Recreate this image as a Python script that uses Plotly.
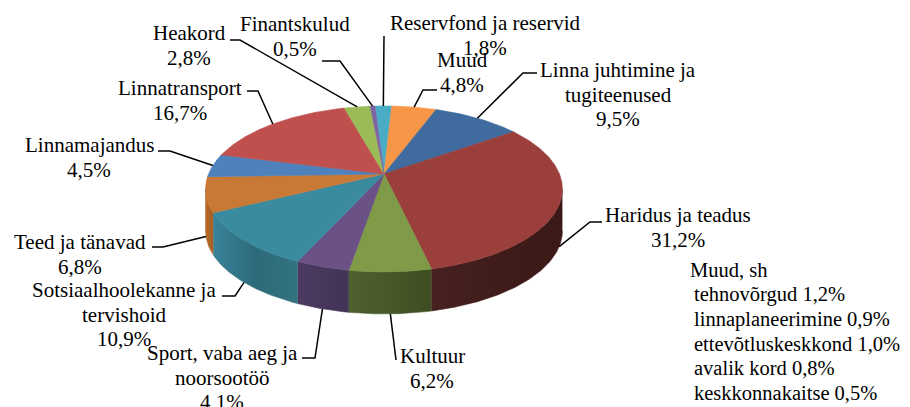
import numpy as np
import plotly.graph_objects as go

# ---------------- data ----------------
categories = [
    "Reservfond ja reservid",
    "Muud",
    "Linna juhtimine ja tugiteenused",
    "Haridus ja teadus",
    "Kultuur",
    "Sport, vaba aeg ja noorsootöö",
    "Sotsiaalhoolekanne ja tervishoid",
    "Teed ja tänavad",
    "Linnamajandus",
    "Linnatransport",
    "Heakord",
    "Finantskulud",
]
shares = [1.8, 4.8, 9.5, 31.2, 6.2, 4.1, 10.9, 6.8, 4.5, 16.7, 2.8, 0.5]
label_text = [
    ["Reservfond ja reservid"],
    ["Muud"],
    ["Linna juhtimine ja", "tugiteenused"],
    ["Haridus ja teadus"],
    ["Kultuur"],
    ["Sport, vaba aeg ja", "noorsootöö"],
    ["Sotsiaalhoolekanne ja", "tervishoid"],
    ["Teed ja tänavad"],
    ["Linnamajandus"],
    ["Linnatransport"],
    ["Heakord"],
    ["Finantskulud"],
]
other_title = "Muud, sh"
other_items = ["tehnovõrgud", "linnaplaneerimine", "ettevõtluskeskkond", "avalik kord", "keskkonnakaitse"]
other_values = [1.2, 0.9, 1.0, 0.8, 0.5]

# ---------------- styles / layout ----------------
top_colors = ["#4BACC6", "#F79646", "#3F6B9F", "#9B3F3D", "#7F9B47", "#6A5186",
              "#3A8BA0", "#C97936", "#4F81BD", "#BF504D", "#9BBB59", "#8064A2"]
# wall shading (left, middle, right)
side_colors = [
    ("#2F7F95", "#2F7F95", "#2F7F95"),
    ("#B86A2A", "#B86A2A", "#B86A2A"),
    ("#2C4C72", "#2C4C72", "#2C4C72"),
    ("#46211F", "#3F1C1A", "#3B1917"),
    ("#4E612E", "#465828", "#3E4D22"),
    ("#4C3C62", "#47375B", "#423355"),
    ("#38839A", "#2D6A79", "#32737F"),
    ("#B86B2B", "#AE6427", "#A55E25"),
    ("#3A6390", "#3A6390", "#3A6390"),
    ("#8E3A38", "#8E3A38", "#8E3A38"),
    ("#73903F", "#73903F", "#73903F"),
    ("#5E4A7A", "#5E4A7A", "#5E4A7A"),
]

PAGE_W, PAGE_H = 910, 407
OFF = 8                    # default page body margin
CX, CY = 384.0, 174.0      # apex of pie (page pixels)
RX, RY = 175.5, 80.3       # radii
K = 0.18                   # perspective factor
DEPTH = 42.0               # thickness of pie
START = -3.5               # first slice angle (deg, clockwise from top)
FONT = dict(family="Liberation Serif", size=21, color="black")
FONT_OTHER = dict(family="Liberation Serif", size=20.5, color="black")
LINE_H = 24.5

# label block: (center x, first line center y)
label_pos = [(485, 23), (462, 60), (618, 70), (678, 215), (432, 356), (222, 353),
             (124, 290), (80, 242), (89, 145), (180, 88), (189, 33), (295, 24)]
# leader line: text-side end and elbow (None = straight)
leader = [((384, 36), None), ((437, 90), (423, 90)), ((537, 73), (523, 73)),
          ((602, 222), (590, 222)), ((396, 360), None), ((302, 358), (315, 358)),
          ((222, 296), (235, 296)), ((152, 247), (163, 247)), ((158, 151), (170, 151)),
          ((247, 91), (258, 91)), ((230, 40), (240, 40)), ((322, 61), (340, 61))]
other_pos = (688, 270)
other_indent = 4


def proj(a_deg):
    a = np.radians(a_deg)
    u, v = np.sin(a), np.cos(a)
    d = 1 + K * v
    return CX + RX * u / d, CY - RY * v / d


def fmt(v):
    return f"{v:.1f}".replace(".", ",") + "%"


total = sum(shares)
bounds = START + 360.0 * np.concatenate([[0], np.cumsum(shares)]) / total
front_lo = 90 + np.degrees(np.arcsin(K))
front_hi = 270 - np.degrees(np.arcsin(K))

fig = go.Figure()

# walls
for i in range(len(shares)):
    a0, a1 = bounds[i], bounds[i + 1]
    lo, hi = max(a0, front_lo), min(a1, front_hi)
    if hi <= lo:
        continue
    ang = np.linspace(lo, hi, max(4, int((hi - lo) * 2)))
    xs, ys = proj(ang)
    px = np.concatenate([xs, xs[::-1]])
    py = np.concatenate([ys, ys[::-1] + DEPTH])
    cl, cm, cr = side_colors[i]
    fig.add_trace(go.Scatter(x=px, y=py, mode="lines", fill="toself",
                             fillcolor=cm,
                             fillgradient=dict(type="horizontal",
                                               colorscale=[[0, cl], [0.5, cm], [1, cr]],
                                               start=float(px.min()), stop=float(px.max())),
                             line=dict(color=cm, width=0.6),
                             hoverinfo="skip", showlegend=False))

# tops
for i in range(len(shares)):
    a0, a1 = bounds[i], bounds[i + 1]
    ang = np.linspace(a0, a1, max(3, int((a1 - a0) * 2)))
    xs, ys = proj(ang)
    px = np.concatenate([[CX], xs, [CX]])
    py = np.concatenate([[CY], ys, [CY]])
    fig.add_trace(go.Scatter(x=px, y=py, mode="lines", fill="toself",
                             fillcolor=top_colors[i],
                             line=dict(color=top_colors[i], width=0.6),
                             hoverinfo="skip", showlegend=False,
                             name=categories[i]))

# leader lines and labels
annotations = []
for i in range(len(shares)):
    m = (bounds[i] + bounds[i + 1]) / 2
    ax, ay = proj(m)
    if np.cos(np.radians(m)) < 0:
        ay = ay + DEPTH
    start, elbow = leader[i]
    pts = [start] + ([elbow] if elbow else []) + [(ax, ay)]
    fig.add_trace(go.Scatter(x=[p[0] for p in pts], y=[p[1] for p in pts], mode="lines",
                             line=dict(color="black", width=1.5),
                             hoverinfo="skip", showlegend=False))
    lines = label_text[i] + [fmt(shares[i])]
    cx, cy = label_pos[i]
    for j, t in enumerate(lines):
        annotations.append(dict(x=cx, y=cy + j * LINE_H, text=t, showarrow=False,
                                xref="x", yref="y", xanchor="center", yanchor="middle",
                                font=FONT))

ox, oy = other_pos
other_lines = [other_title] + [f"{n} {fmt(v)}" for n, v in zip(other_items, other_values)]
for j, t in enumerate(other_lines):
    annotations.append(dict(x=ox, y=oy + j * LINE_H, text=t, showarrow=False,
                            xref="x", yref="y", xanchor="left", yanchor="middle",
                            xshift=0 if j == 0 else other_indent,
                            font=FONT_OTHER))

fig.update_layout(
    width=PAGE_W - OFF, height=PAGE_H - OFF,
    margin=dict(l=0, r=0, t=0, b=0, pad=0),
    paper_bgcolor="white", plot_bgcolor="white",
    xaxis=dict(range=[OFF, PAGE_W], visible=False, fixedrange=True),
    yaxis=dict(range=[PAGE_H, OFF], visible=False, fixedrange=True),
    annotations=annotations,
    showlegend=False,
)

fig.write_html("out.html")
